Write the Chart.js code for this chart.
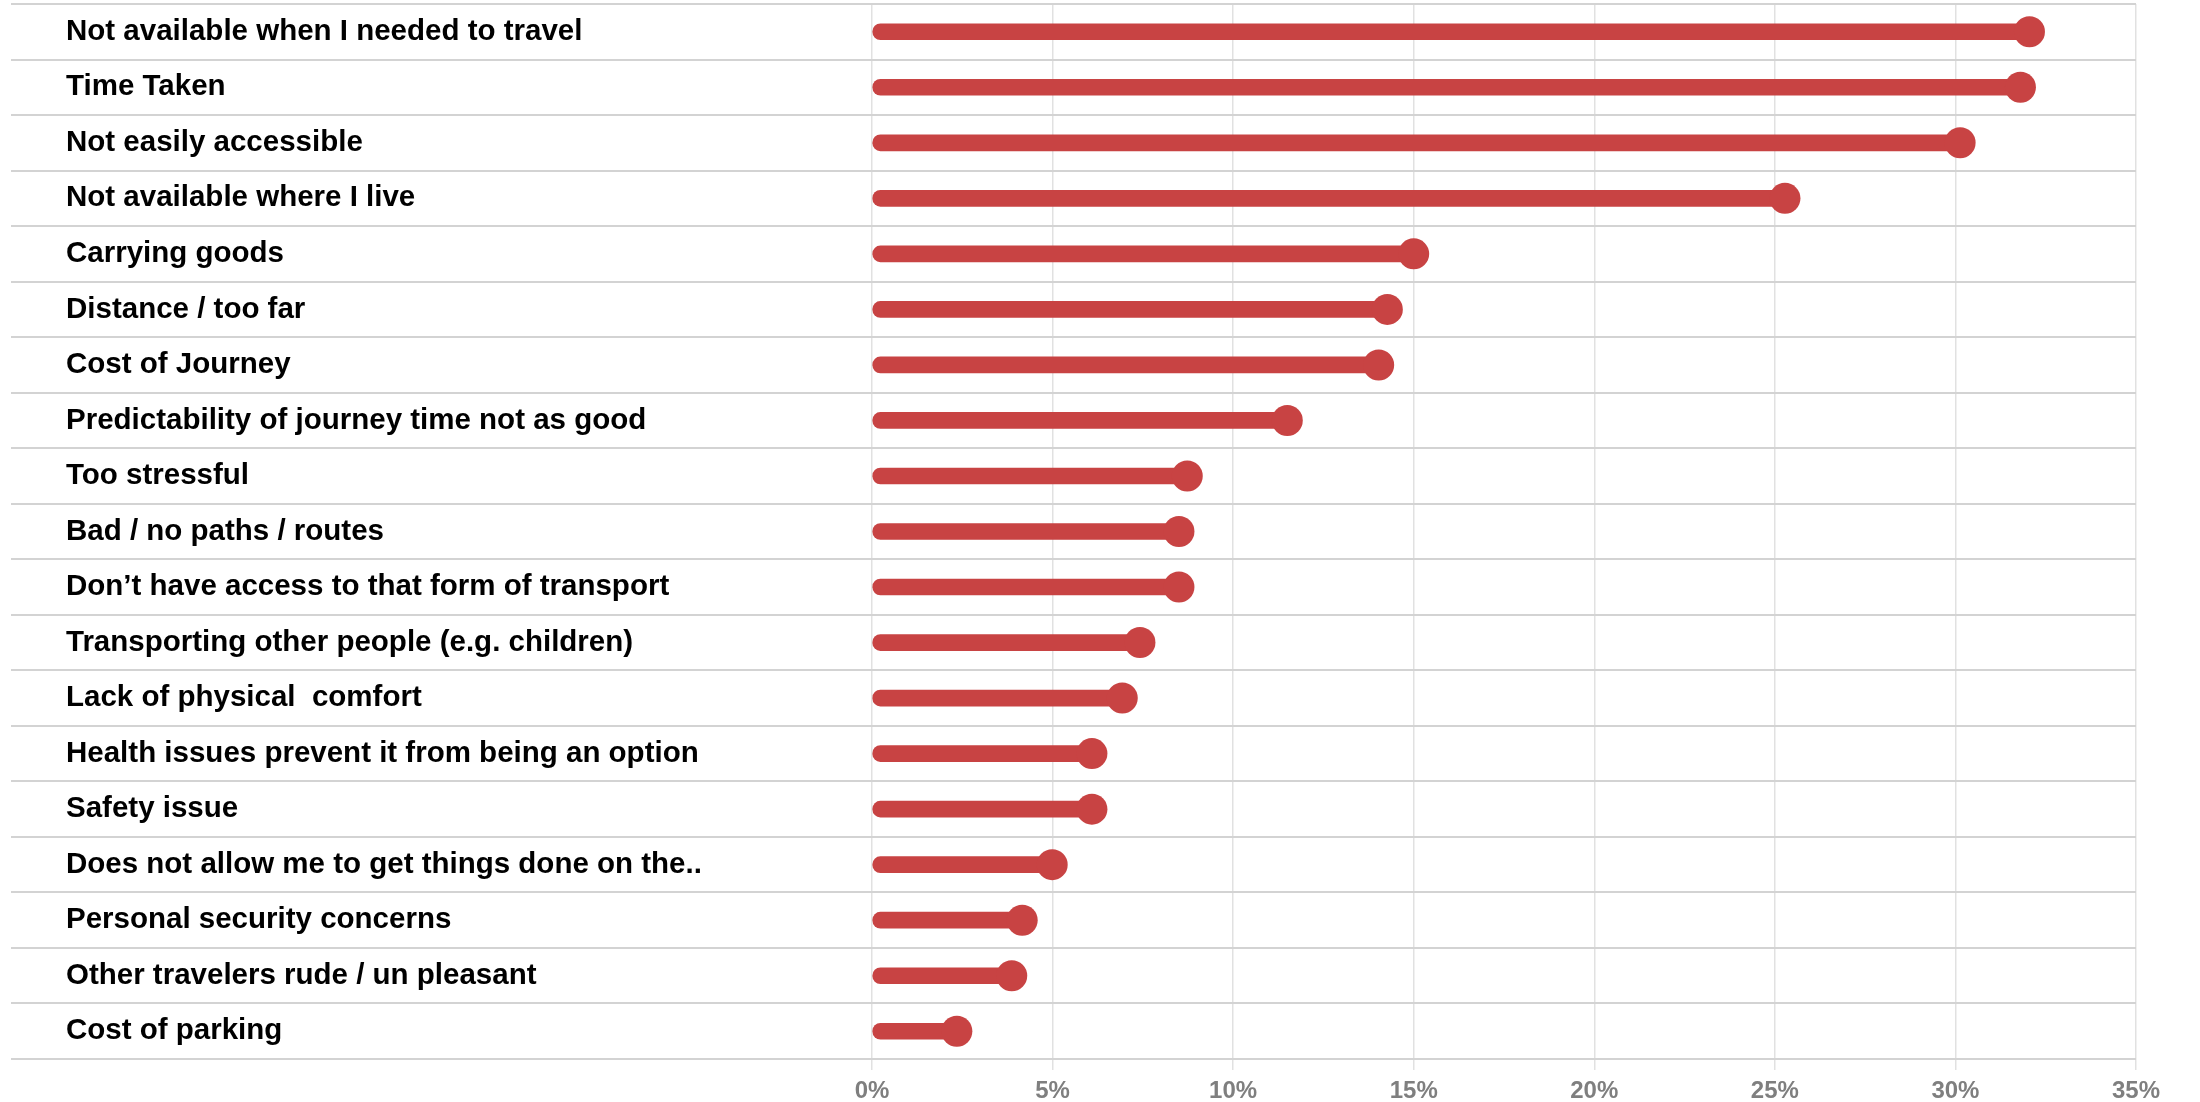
<!DOCTYPE html>
<html>
<head>
<meta charset="utf-8">
<title>Reasons for not using a form of transport</title>
<script src="https://cdn.jsdelivr.net/npm/chart.js@4.4.1/dist/chart.umd.min.js"></script>
<style>
  html, body { margin: 0; padding: 0; background: #ffffff; }
  #wrap { width: 2200px; height: 1102px; }
</style>
</head>
<body>
<div id="wrap"><canvas id="chartReasons"></canvas></div>
<script>
// --- Data ---
const reasons = [
    'Not available when I needed to travel',
    'Time Taken',
    'Not easily accessible',
    'Not available where I live',
    'Carrying goods',
    'Distance / too far',
    'Cost of Journey',
    'Predictability of journey time not as good',
    'Too stressful',
    'Bad / no paths / routes',
    'Don\u2019t have access to that form of transport',
    'Transporting other people (e.g. children)',
    'Lack of physical  comfort',
    'Health issues prevent it from being an option',
    'Safety issue',
    'Does not allow me to get things done on the..',
    'Personal security concerns',
    'Other travelers rude / un pleasant',
    'Cost of parking'
];
const shares = [32.05, 31.8, 30.13, 25.28, 15.0, 14.27, 14.03, 11.5, 8.73, 8.5, 8.5, 7.42, 6.93, 6.09, 6.09, 4.99, 4.16, 3.87, 2.35];
const xTicks = [0, 5, 10, 15, 20, 25, 30, 35];

document.addEventListener("DOMContentLoaded", () => {
    const red = '#C84343';
    const fontFamily = "'Liberation Sans', Arial, sans-serif";

    const ctx = document.getElementById('chartReasons').getContext('2d');

    new Chart(ctx, {
        type: 'bar',
        data: {
            labels: reasons,
            datasets: [
                {
                    // the dot at the end of each stick
                    type: 'line',
                    indexAxis: 'y',
                    data: shares,
                    showLine: false,
                    pointRadius: 15.5,
                    pointHoverRadius: 15.5,
                    pointBackgroundColor: red,
                    pointBorderWidth: 0,
                    clip: false,
                    order: 0
                },
                {
                    // the stick itself
                    type: 'bar',
                    data: shares,
                    backgroundColor: red,
                    barThickness: 16,
                    borderRadius: 8,
                    borderSkipped: false,
                    order: 1
                }
            ]
        },
        options: {
            indexAxis: 'y',
            responsive: true,
            maintainAspectRatio: false,
            animation: false,
            // no automatic room for the dots, the grid runs to the edges
            layout: { autoPadding: false, padding: { left: 11, right: 64, top: 4, bottom: 0 } },
            plugins: {
                legend: { display: false },
                tooltip: { enabled: false }
            },
            scales: {
                x: {
                    type: 'linear',
                    // negative room on the left leaves space for the labels inside the grid
                    min: -23.84,
                    max: 35,
                    bounds: 'data',
                    afterBuildTicks: (axis) => { axis.ticks = xTicks.map(v => ({ value: v })); },
                    afterFit: (axis) => { axis.height = 43; },
                    border: { display: false },
                    grid: { color: '#e1e1e1', lineWidth: 1.5, tickLength: 11 },
                    ticks: {
                        callback: (v) => v + '%',
                        color: '#7f7f7f',
                        font: { family: fontFamily, size: 24, weight: 'bold' },
                        padding: 7,
                        maxRotation: 0,
                        autoSkip: false
                    }
                },
                y: {
                    type: 'category',
                    // labels sit inside the plot, so the axis takes no room
                    afterFit: (axis) => {
                        axis.width = 0;
                        axis.paddingTop = 0;
                        axis.paddingBottom = 0;
                    },
                    border: { display: false },
                    grid: { color: '#d3d3d3', lineWidth: 2, drawTicks: false, offset: true },
                    ticks: {
                        mirror: true,
                        padding: 55,
                        color: '#000000',
                        font: { family: fontFamily, size: 29.5, weight: 'bold' },
                        autoSkip: false
                    }
                }
            }
        }
    });
});
</script>
</body>
</html>
